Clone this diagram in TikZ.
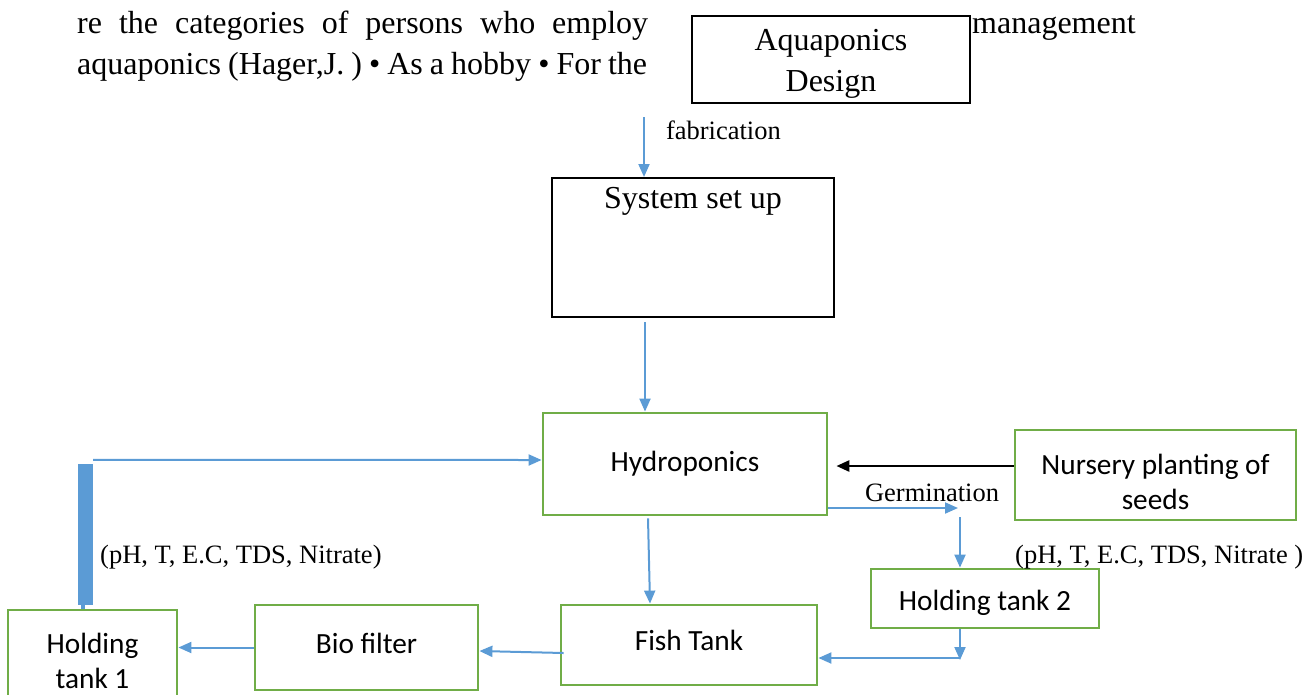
\documentclass[tikz,border=0pt]{standalone}
\usepackage{fontspec}
\setmainfont{Liberation Serif}
\newfontfamily\calib{Carlito}
\usepackage{tikz}
\usetikzlibrary{arrows.meta}

\definecolor{flowblue}{HTML}{5B9BD5}
\definecolor{boxgreen}{HTML}{70AD47}

\begin{document}
\begin{tikzpicture}[x=1pt, y=-1pt, inner sep=0pt]
    \tikzstyle{blk}=[rectangle, draw=black, line width=2.4pt, fill=white, font=\fontsize{32}{41}\selectfont, align=center]
    \tikzstyle{grn}=[rectangle, draw=boxgreen, line width=2.8pt, fill=white, font=\calib\fontsize{29.3}{35}\selectfont, align=center]
    \tikzstyle{txt}=[font=\fontsize{32}{41}\selectfont]
    \tikzstyle{lbl}=[font=\fontsize{26.5}{30}\selectfont, text=black]
    \tikzstyle{fl}=[-{Triangle[length=13pt,width=11pt]}, color=flowblue, line width=2pt]
    \tikzstyle{fk}=[-{Triangle[length=13pt,width=11pt]}, color=black, line width=2.6pt]

    \clip (0,0) rectangle (1316,694);

    % text of the page behind the figure
    \node[txt, anchor=base west] (p1) at (77,33) {\makebox[571pt][s]{re the categories of persons who employ}};
    \node[txt, anchor=base west] (p2) at (77,74) {\makebox[570pt][s]{aquaponics (Hager,J. ) • As a hobby • For the}};
    \node[txt, anchor=base west] (p3) at (972,33) {management};

    \node[blk, minimum width=278pt, minimum height=87pt, text height=67pt, text depth=3pt] (AD) at (831,59.5) {Aquaponics\\Design};
    \node[blk, anchor=north, minimum width=282pt, text height=30pt, text depth=109pt] (SS) at (693,177) {System set up};

    \node[grn, minimum width=284pt, minimum height=102pt] (H) at (685,464) {Hydroponics};
    \node[grn, minimum width=281pt, minimum height=90pt, text height=68pt, text depth=0pt] (N) at (1155.5,475) {Nursery planting of\\seeds};
    \node[grn, minimum width=228pt, minimum height=59pt, text height=26pt, text depth=3pt] (T2) at (985,598.5) {Holding tank 2};
    \node[grn, minimum width=256pt, minimum height=80pt, text height=20pt, text depth=9.5pt] (F) at (689,645) {Fish Tank};
    \node[grn, minimum width=223pt, minimum height=85pt, text height=20pt, text depth=7.5pt] (B) at (366.5,647.5) {Bio filter};
    \node[grn, minimum width=169pt, minimum height=102pt] (T1) at (92.5,661) {Holding\\tank 1};
    \node[rectangle, fill=flowblue, minimum width=15pt, minimum height=141pt] (bar) at (85.5,534.5) {};

    \node[lbl, anchor=west] (q1) at (100,557) {(pH, T, E.C, TDS, Nitrate)};
    \node[lbl, anchor=west] (q2) at (1015,557) {(pH, T, E.C, TDS, Nitrate )};
    \node[lbl] (gl) at (932,493) {Germination};

    \coordinate (fab) at (644,117);
    \coordinate (s1) at ([xshift=-48pt,yshift=-4pt]SS.south);
    \coordinate (h1) at ([xshift=-37pt,yshift=-2pt]H.south);
    \coordinate (f1) at ([xshift=-39pt]F.north);
    \coordinate (g1) at (958,508);
    \coordinate (g2) at (960,517);
    \coordinate (g3) at (960,660);
    \coordinate (g4) at (960,658);
    \coordinate (b1) at ([xshift=-2.5pt]bar.south);

    \draw[fl] (fab) to node[lbl, pos=0.22, right=21pt] (fabl) {fabrication} (fab |- SS.north);
    \draw[fl] (s1) to (s1 |- H.north);
    \draw[fk] ([yshift=9pt]N.west) to ([xshift=8pt,yshift=-2pt]H.east);
    \draw[fl] ([yshift=-44pt]H.east) to (g1);
    \draw[fl] (g2) to (g2 |- T2.north);
    \draw[fl] (g2 |- T2.south) to (g3);
    \draw[fl] (g4) to (g4 -| F.east);
    \draw[fl] (h1) to (f1);
    \draw[fl] ([xshift=4pt,yshift=-8pt]F.west) to ([yshift=-3.5pt]B.east);
    \draw[fl] (B.west) to (B.west -| T1.east);
    \draw[fl] ([yshift=4pt]bar.north east) to ([yshift=4pt]H.west);
    \draw[flowblue, line width=4pt] (b1) to (b1 |- T1.north);
\end{tikzpicture}
\end{document}
